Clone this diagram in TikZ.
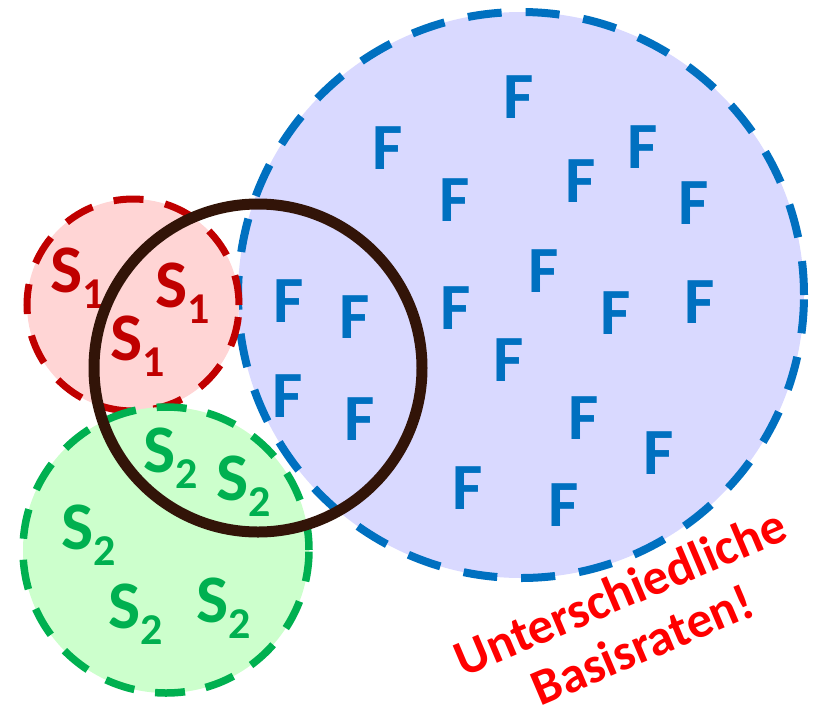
\documentclass[tikz,border=0pt]{standalone}
\usepackage{fontspec}
\setmainfont{Carlito}
\definecolor{fblue}{HTML}{0070C0}
\definecolor{bfill}{HTML}{D9D9FF}
\definecolor{sred}{HTML}{C00000}
\definecolor{rfill}{HTML}{FFD5D5}
\definecolor{sgreen}{HTML}{00B050}
\definecolor{gfill}{HTML}{CCFFCC}
\definecolor{ring}{HTML}{321408}
\definecolor{warn}{HTML}{FF0000}
\tikzset{
  setcircle/.style={circle, inner sep=0pt, minimum size=#1},
  flabel/.style={text=fblue, font=\fontsize{66}{70}\selectfont\bfseries, inner sep=0pt},
  slabel/.style={font=\fontsize{68}{70}\selectfont\bfseries, inner sep=0pt, anchor=base west},
  warnlabel/.style={text=warn, font=\fontsize{51}{57}\selectfont\bfseries, rotate=23, inner sep=0pt, align=center}
}
\newcommand{\subnum}[1]{\raisebox{-0.24em}{\fontsize{44}{44}\selectfont #1}}
\begin{document}
\begin{tikzpicture}[x=1pt,y=-1pt]
\useasboundingbox (0,0) rectangle (814,713);
% sets
\node[setcircle=566pt, fill=bfill, draw=fblue, line width=8pt, dash pattern=on 34pt off 24pt] (fset) at (521,295) {};
\node[setcircle=212pt, fill=rfill, draw=sred, line width=7pt, dash pattern=on 30pt off 22pt] (s1set) at (133,305) {};
\node[setcircle=286pt, fill=gfill, draw=sgreen, line width=7.5pt, dash pattern=on 30pt off 21pt] (s2set) at (166,550) {};
% F labels
\foreach \i/\x/\y in {1/519/97,2/388/148,3/455/200,4/581/181,5/643/147,6/694/203,7/544/271,
  8/289/301,9/355/317,10/456/308,11/616/313,12/700/302,13/509/360,14/288/396,15/360/419,
  16/584/418,17/659/453,18/468/488,19/564/505}
  \node[flabel] (f\i) at (\x,\y) {F};
% S1 labels
\node[slabel, text=sred] (a1) at (50,292) {S\subnum{1}};
\node[slabel, text=sred] (a2) at (155,307) {S\subnum{1}};
\node[slabel, text=sred] (a3) at (110,360) {S\subnum{1}};
% S2 labels
\node[slabel, text=sgreen] (b1) at (143,472) {S\subnum{2}};
\node[slabel, text=sgreen] (b2) at (216,500) {S\subnum{2}};
\node[slabel, text=sgreen] (b3) at (61,549) {S\subnum{2}};
\node[slabel, text=sgreen] (b4) at (108,628) {S\subnum{2}};
\node[slabel, text=sgreen] (b5) at (196,622) {S\subnum{2}};
% black ring
\node[setcircle=328pt, draw=ring, line width=11pt] (ring) at (258,368) {};
% warning
\node[warnlabel] (w) at (631,618) {Unterschiedliche\\Basisraten!};
\end{tikzpicture}
\end{document}
